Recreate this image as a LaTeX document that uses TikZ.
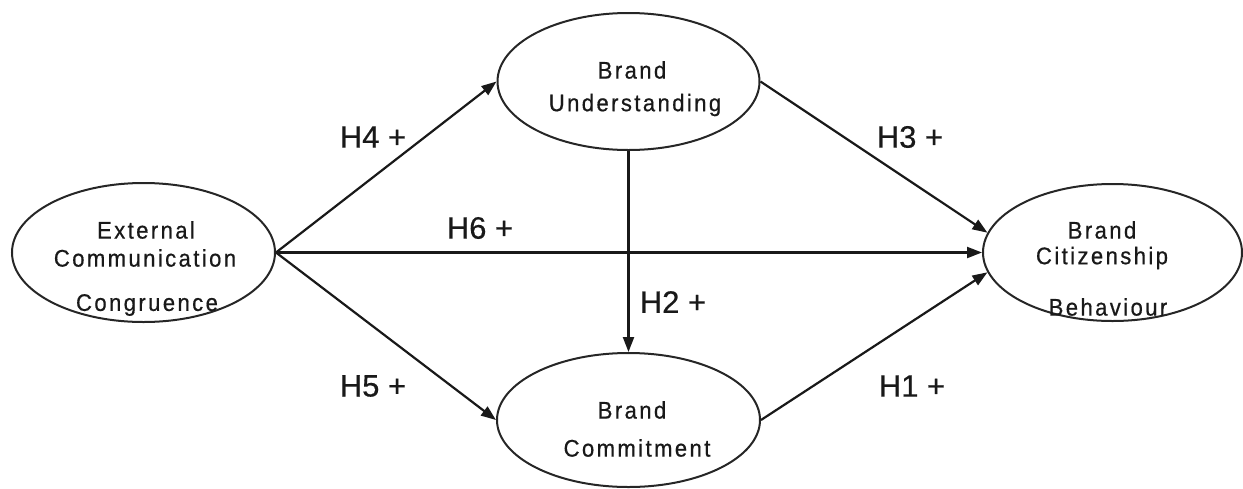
\documentclass[tikz,border=0pt]{standalone}
\usepackage{fontspec}
\setmainfont{Liberation Sans}
\newfontfamily\spacedfont[LetterSpace=10,FakeStretch=0.92,FakeBold=0.6]{Liberation Sans}
\newfontfamily\labelfont[FakeBold=0.4]{Liberation Sans}
\usetikzlibrary{shapes.geometric,arrows.meta}
\begin{document}
\begin{tikzpicture}[x=1pt,y=-1pt,
  construct/.style={draw=black!85,line width=2pt,ellipse,inner sep=0pt},
  ctext/.style={inner sep=0pt,font=\spacedfont\fontsize{24}{28}\selectfont,text=black!90},
  hlabel/.style={inner sep=0pt,font=\labelfont\fontsize{31}{36}\selectfont,text=black!90},
  path/.style={draw=black!90,line width=2.2pt,-{Triangle[length=15pt,width=11pt]}}]
\useasboundingbox (0,0) rectangle (1243,488);
\node[construct,minimum width=263pt,minimum height=139pt] (ecc) at (143.5,252.5) {};
\node[construct,minimum width=262pt,minimum height=137pt] (bu) at (628.5,81.5) {};
\node[construct,minimum width=263pt,minimum height=134pt] (bc) at (628.5,420) {};
\node[construct,minimum width=259pt,minimum height=137pt] (bcb) at (1112.5,252.5) {};
% texts
\node[ctext] (ecc1) at (146,230) {External};
\node[ctext] (ecc2) at (145,258) {Communication};
\node[ctext] (ecc3) at (147,305) {Congruence};
\node[ctext] (bu1) at (632,70) {Brand};
\node[ctext] (bu2) at (635,105) {Understanding};
\node[ctext] (bc1) at (632,410) {Brand};
\node[ctext] (bc2) at (637,448) {Commitment};
\node[ctext] (bcb1) at (1102,230) {Brand};
\node[ctext] (bcb2) at (1102,258) {Citizenship};
\node[ctext] (bcb3) at (1108,307) {Behaviour};
% connectors
\draw[path] (ecc.east) -- (bu.west);
\draw[path] (ecc.east) -- (bcb.west);
\draw[path] (ecc.east) -- (bc.west);
\draw[path] (bu.south) -- (bc.north);
\draw[path] (bu.east) -- (bcb.171);
\draw[path] (bc.east) -- (bcb.189);
% labels
\node[hlabel] (h4) at (373,137) {H4 +};
\node[hlabel] (h6) at (480,228) {H6 +};
\node[hlabel] (h2) at (673,302) {H2 +};
\node[hlabel] (h3) at (910,137) {H3 +};
\node[hlabel] (h5) at (373,386) {H5 +};
\node[hlabel] (h1) at (912,386) {H1 +};
\end{tikzpicture}
\end{document}
